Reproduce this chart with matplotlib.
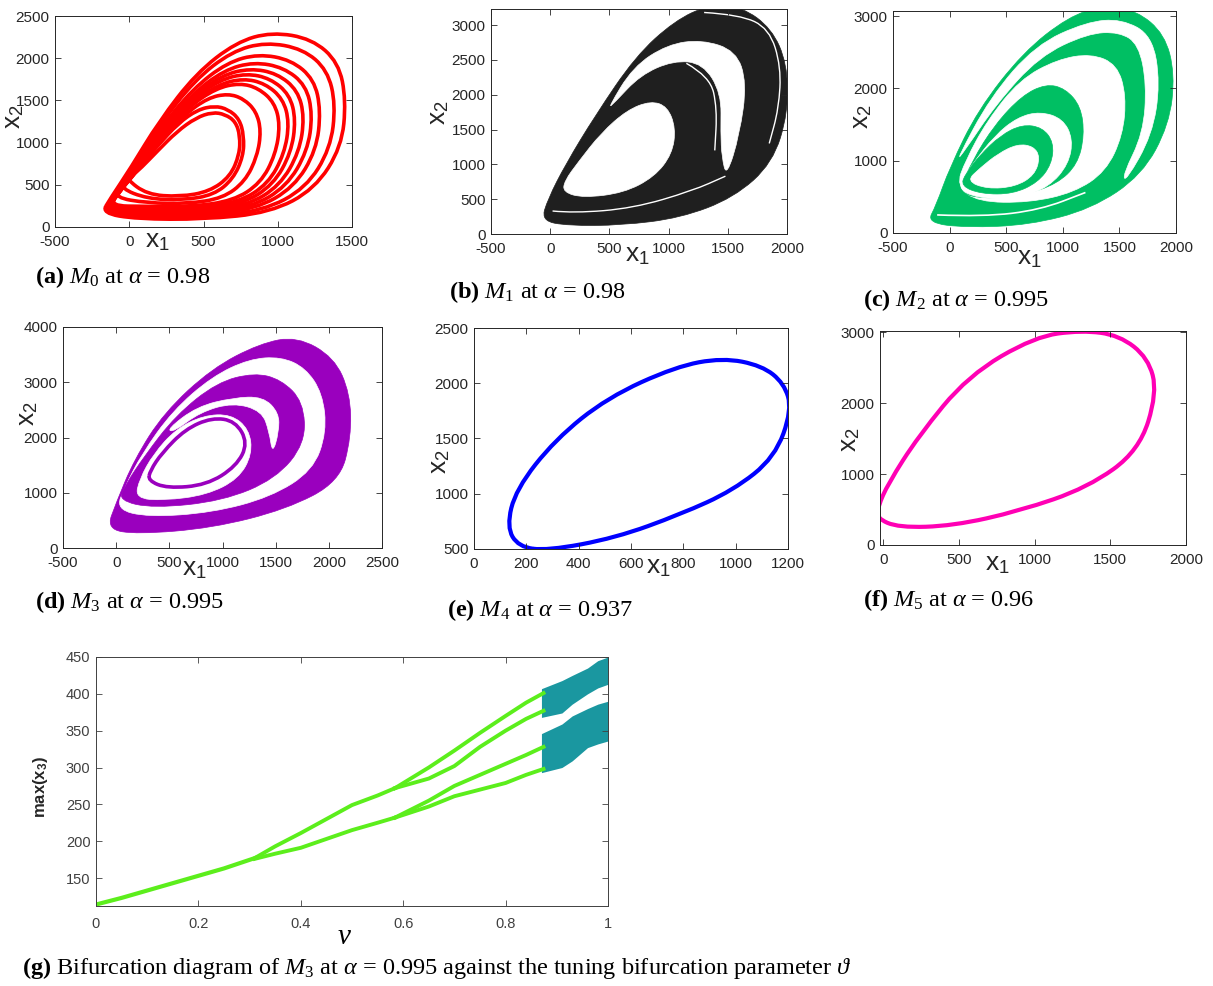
import numpy as np
import matplotlib
matplotlib.use("Agg")
from matplotlib import pyplot as plt
from matplotlib.path import Path
from matplotlib.patches import PathPatch

plt.rcParams["font.family"] = ["Liberation Sans", "DejaVu Sans"]
plt.rcParams["axes.unicode_minus"] = False
plt.rcParams["mathtext.fontset"] = "custom"
plt.rcParams["mathtext.rm"] = "Liberation Serif"
plt.rcParams["mathtext.it"] = "Liberation Serif:italic"
plt.rcParams["mathtext.bf"] = "Liberation Serif:bold"
plt.rcParams["mathtext.bfit"] = "Liberation Sans:bold"
plt.rcParams["mathtext.sf"] = "Liberation Sans"

# ---------------- data (x1, x2) ----------------
# (a) M0: nested loops, outer -> inner
a_loops = [
    [(-185, 165), (50, 95), (500, 90), (950, 170), (1250, 450), (1430, 950), (1460, 1500), (1410, 1950), (1230, 2230), (960, 2310), (720, 2190), (450, 1820), (200, 1250), (10, 700), (-130, 330)],
    [(-175, 170), (50, 120), (480, 115), (900, 190), (1190, 460), (1355, 930), (1390, 1450), (1335, 1860), (1170, 2110), (920, 2190), (690, 2080), (440, 1740), (200, 1200), (20, 690), (-120, 340)],
    [(-165, 175), (60, 145), (460, 140), (850, 210), (1110, 470), (1260, 910), (1290, 1380), (1245, 1750), (1090, 1980), (870, 2050), (660, 1950), (430, 1640), (200, 1150), (30, 680), (-110, 345)],
    [(-155, 180), (70, 165), (450, 160), (820, 230), (1060, 480), (1200, 900), (1235, 1330), (1190, 1680), (1040, 1890), (840, 1955), (640, 1860), (420, 1570), (200, 1110), (35, 670), (-100, 350)],
    [(-150, 190), (80, 185), (440, 180), (790, 250), (1015, 490), (1145, 890), (1180, 1300), (1135, 1620), (995, 1820), (815, 1880), (625, 1800), (410, 1520), (200, 1080), (40, 660), (-95, 360)],
    [(-145, 205), (90, 205), (430, 200), (760, 270), (970, 500), (1090, 880), (1122, 1270), (1080, 1570), (950, 1760), (790, 1820), (610, 1745), (400, 1480), (200, 1060), (45, 660), (-85, 375)],
    [(-140, 220), (100, 225), (420, 220), (735, 290), (935, 510), (1045, 870), (1078, 1240), (1035, 1520), (915, 1700), (770, 1760), (600, 1690), (395, 1440), (200, 1040), (50, 660), (-80, 390)],
    [(-130, 250), (110, 245), (410, 240), (700, 310), (885, 520), (985, 860), (1016, 1210), (978, 1475), (870, 1645), (745, 1705), (585, 1645), (390, 1410), (200, 1020), (55, 665), (-70, 420)],
    [(-100, 350), (120, 285), (390, 275), (630, 340), (780, 540), (862, 840), (888, 1140), (855, 1370), (770, 1520), (665, 1580), (530, 1530), (370, 1330), (200, 990), (60, 690), (-40, 480)],
    [(-60, 460), (120, 335), (360, 318), (570, 380), (700, 570), (768, 840), (772, 1080), (742, 1280), (665, 1395), (575, 1435), (460, 1390), (330, 1230), (190, 960), (70, 720), (-10, 560)],
    [(-20, 570), (120, 385), (340, 358), (540, 420), (680, 600), (742, 860), (746, 1080), (716, 1250), (645, 1335), (560, 1360), (450, 1295), (320, 1130), (190, 900), (80, 700), (20, 610)],
]

# (b) M1: filled region, white holes and thin white threads
b_outer = [(-75, 190), (150, 120), (600, 125), (1100, 230), (1550, 520), (1880, 1020), (2010, 1750), (2000, 2450), (1870, 2950), (1620, 3260), (1340, 3290), (1050, 3060), (720, 2550), (380, 1700), (130, 1000), (-20, 500)]
b_gap = [(490, 1810), (700, 2400), (990, 2720), (1280, 2790), (1570, 2630), (1660, 2170), (1600, 1430), (1490, 820), (1450, 1100), (1440, 1450), (1445, 2020), (1290, 2450), (1040, 2490), (760, 2280), (540, 1880)]
b_hole = [(110, 600), (280, 520), (620, 590), (880, 820), (1030, 1150), (1060, 1520), (990, 1830), (850, 1910), (650, 1780), (430, 1450), (240, 1040), (120, 760)]
b_threads = [
    [(20, 330), (200, 300), (700, 370), (1200, 620), (1480, 830)],
    [(1300, 3180), (1600, 3150), (1850, 2950), (1950, 2400), (1930, 1800), (1850, 1300)],
    [(1150, 2450), (1350, 2260), (1410, 1800), (1390, 1200)],
]

# (c) M2: layered bands (green, white, green, ...)
c_outer = [(-200, 140), (150, 75), (700, 110), (1250, 330), (1700, 800), (1940, 1500), (1990, 2200), (1900, 2750), (1650, 3080), (1350, 3140), (1050, 2990), (650, 2500), (250, 1700), (0, 900), (-120, 380)]
c_gap = [(60, 1000), (360, 1880), (760, 2600), (1210, 2920), (1520, 2960), (1790, 2730), (1860, 2070), (1790, 1360), (1560, 720), (1530, 800), (1710, 1380), (1740, 2060), (1670, 2610), (1500, 2780), (1220, 2760), (790, 2440), (410, 1780), (130, 1130)]
c_white = [(60, 650), (250, 430), (700, 420), (1100, 560), (1380, 850), (1530, 1350), (1560, 1900), (1480, 2330), (1250, 2480), (950, 2400), (620, 2120), (330, 1550), (140, 1000)]
c_mid = [(80, 560), (300, 470), (650, 520), (950, 680), (1130, 950), (1190, 1350), (1160, 1750), (1020, 2000), (850, 2060), (640, 1900), (400, 1500), (200, 1000)]
c_gap2 = [(60, 620), (250, 480), (600, 470), (880, 640), (1050, 950), (1090, 1300), (1000, 1580), (800, 1680), (600, 1600), (400, 1350), (200, 950)]
c_ring = [(100, 650), (280, 540), (560, 540), (780, 700), (900, 950), (920, 1250), (820, 1460), (640, 1500), (450, 1350), (270, 1080), (140, 820)]
c_hole = [(150, 720), (330, 610), (580, 640), (750, 800), (800, 1050), (740, 1200), (600, 1230), (430, 1100), (270, 900)]
c_thread = [(-110, 250), (300, 225), (800, 320), (1200, 560)]

# (d) M3
d_outer = [(-90, 340), (200, 250), (900, 360), (1600, 700), (2100, 1200), (2210, 2000), (2200, 2800), (2050, 3450), (1700, 3830), (1350, 3700), (900, 3250), (450, 2450), (170, 1600), (0, 820)]
d_white = [(0, 700), (300, 560), (900, 640), (1450, 920), (1850, 1400), (1980, 2100), (1940, 2800), (1780, 3260), (1550, 3460), (1250, 3420), (900, 3100), (530, 2480), (240, 1700), (80, 1100)]
d_band = [(20, 860), (350, 720), (1000, 850), (1500, 1250), (1780, 1900), (1760, 2650), (1550, 3050), (1300, 3170), (950, 3000), (560, 2400), (260, 1650), (90, 1150)]
d_gap = [(480, 2150), (760, 2560), (1100, 2720), (1380, 2740), (1530, 2450), (1530, 2100), (1470, 1700), (1440, 2100), (1370, 2480), (1100, 2630), (790, 2460), (540, 2100)]
d_hole = [(180, 900), (450, 860), (850, 960), (1150, 1250), (1280, 1700), (1250, 2150), (1080, 2420), (820, 2400), (560, 2150), (350, 1700), (220, 1250)]
d_inner = [(300, 1220), (480, 1080), (850, 1140), (1130, 1480), (1240, 1900), (1120, 2300), (900, 2360), (650, 2150), (430, 1720), (320, 1400)]

# (e) M4 limit cycle
e_loop = [(280, 485), (540, 600), (790, 815), (990, 1030), (1150, 1330), (1215, 1760), (1185, 2000), (1100, 2160), (950, 2230), (770, 2150), (510, 1870), (310, 1490), (160, 1040), (125, 700), (170, 520)]

# (f) M5 limit cycle
f_loop = [(-45, 380), (100, 245), (460, 270), (900, 480), (1350, 810), (1690, 1330), (1810, 2150), (1750, 2640), (1560, 2960), (1310, 3030), (1000, 2940), (560, 2390), (230, 1530), (30, 860), (-35, 540)]

# (g) bifurcation diagram: periodic branches and chaotic bands
stem_nu = [0, 0.05, 0.1, 0.15, 0.2, 0.25, 0.31]
stem_v = [114, 123, 133, 143, 153, 163, 177]
pair_nu = [0.31, 0.35, 0.4, 0.45, 0.5, 0.55, 0.584]
pair_up = [177, 193, 211, 230, 249, 262, 272]
pair_lo = [176, 183, 191, 203, 215, 225, 232]
quad_nu = [0.584, 0.65, 0.7, 0.75, 0.8, 0.84, 0.874]
quad_a1 = [272, 300, 323, 347, 370, 388, 401]
quad_a2 = [272, 285, 302, 328, 350, 366, 377]
quad_b1 = [232, 255, 275, 290, 305, 317, 328]
quad_b2 = [232, 247, 261, 270, 279, 290, 298]
chaos_nu = [0.87, 0.91, 0.93, 0.96, 0.98, 1.0]
chaos_up_hi = [407, 418, 425, 435, 445, 450]
chaos_up_lo = [368, 374, 386, 400, 408, 413]
chaos_lo_hi = [346, 359, 370, 380, 386, 390]
chaos_lo_lo = [293, 300, 309, 327, 332, 336]

W, H = 1213, 986
INK = "#262626"


def loop_path(pts):
    # closed smooth path with the points as quadratic control vertices
    p = np.asarray(pts, dtype=float)
    mid = (p + np.roll(p, -1, axis=0)) / 2
    verts = [mid[-1]]
    for a, m in zip(p, mid):
        verts += [a, m]
    codes = [Path.MOVETO] + [Path.CURVE3] * (2 * len(p))
    return Path(verts, codes)


def open_path(pts):
    p = np.asarray(pts, dtype=float)
    verts = [p[0]]
    codes = [Path.MOVETO]
    for i in range(1, len(p) - 1):
        verts += [p[i], (p[i] + p[i + 1]) / 2]
        codes += [Path.CURVE3, Path.CURVE3]
    verts.append(p[-1])
    codes.append(Path.LINETO)
    return Path(verts, codes)


def fill_loop(ax, pts, color):
    ax.add_patch(PathPatch(loop_path(pts), facecolor=color, edgecolor=color, lw=0.5))


def line_loop(ax, pts, color, lw):
    ax.add_patch(PathPatch(loop_path(pts), facecolor="none", edgecolor=color, lw=lw))


def thread(ax, pts, color, lw):
    ax.add_patch(PathPatch(open_path(pts), facecolor="none", edgecolor=color, lw=lw))


def make_axes(box, xlim, ylim, xticks, yticks, labelsize=11, color=INK):
    l, t, r, b = box
    ax = fig.add_axes([l / W, 1 - b / H, (r - l) / W, (b - t) / H])
    ax.set_xlim(*xlim)
    ax.set_ylim(*ylim)
    ax.set_xticks(xticks)
    ax.set_yticks(yticks)
    ax.tick_params(direction="in", top=True, right=True, length=4, width=0.6,
                   colors=color, labelsize=labelsize, pad=4)
    ax.tick_params(axis="x", pad=6)
    for s in ax.spines.values():
        s.set_color(color)
        s.set_linewidth(0.7)
    return ax


def fig_text(x, y, s, **kw):
    return fig.text(x / W, 1 - y / H, s, **kw)


def axis_labels(xpos, ypos):
    fig_text(*xpos, r"$\mathsf{x}_{\mathsf{1}}$", fontsize=19, color=INK, ha="center", va="center")
    fig_text(*ypos, r"$\mathsf{x}_{\mathsf{2}}$", fontsize=19, color=INK, ha="center", va="center", rotation=90)


def caption(x, y, s):
    fig_text(x, y, s, fontsize=17.5, family="Liberation Serif", ha="left", va="center")


fig = plt.figure(figsize=(W / 100, H / 100), dpi=100)

# (a)
ax = make_axes((55, 16, 352, 227), (-500, 1500), (0, 2500), np.arange(-500, 1501, 500), np.arange(0, 2501, 500))
for lp in a_loops:
    line_loop(ax, lp, "#ff0000", 2.6)
axis_labels((157, 241), (14, 117))
caption(35, 277, r"$\mathbf{(a)}$ $M_0$ at $\alpha$ = 0.98")

# (b)
ax = make_axes((491, 9, 787, 234), (-500, 2000), (0, 3230), np.arange(-500, 2001, 500), np.arange(0, 3001, 500))
fill_loop(ax, b_outer, "#1f1f1f")
fill_loop(ax, b_gap, "white")
fill_loop(ax, b_hole, "white")
for th in b_threads:
    thread(ax, th, "white", 1.0)
axis_labels((637, 255), (439, 113))
caption(449, 292, r"$\mathbf{(b)}$ $M_1$ at $\alpha$ = 0.98")

# (c)
green = "#00bf63"
ax = make_axes((893, 11, 1176, 233), (-500, 2000), (0, 3070), np.arange(-500, 2001, 500), [0, 1000, 2000, 3000])
fill_loop(ax, c_outer, green)
fill_loop(ax, c_gap, "white")
fill_loop(ax, c_white, "white")
fill_loop(ax, c_mid, green)
fill_loop(ax, c_gap2, "white")
fill_loop(ax, c_ring, green)
fill_loop(ax, c_hole, "white")
thread(ax, c_thread, "white", 1.2)
axis_labels((1029, 258), (862, 117))
caption(863, 300, r"$\mathbf{(c)}$ $M_2$ at $\alpha$ = 0.995")

# (d)
purple = "#9a00be"
ax = make_axes((63, 327, 382, 548), (-500, 2500), (0, 4000), np.arange(-500, 2501, 500), np.arange(0, 4001, 1000))
fill_loop(ax, d_outer, purple)
fill_loop(ax, d_white, "white")
fill_loop(ax, d_band, purple)
fill_loop(ax, d_gap, "white")
fill_loop(ax, d_hole, "white")
line_loop(ax, d_inner, purple, 2.6)
axis_labels((194, 569), (28, 414))
caption(35, 602, r"$\mathbf{(d)}$ $M_3$ at $\alpha$ = 0.995")

# (e)
ax = make_axes((474, 328, 788, 549), (0, 1200), (500, 2500), np.arange(0, 1201, 200), np.arange(500, 2501, 500))
line_loop(ax, e_loop, "#0000ff", 3)
axis_labels((658, 567), (440, 462))
caption(447, 610, r"$\mathbf{(e)}$ $M_4$ at $\alpha$ = 0.937")

# (f)
ax = make_axes((880, 331, 1186, 545), (-22, 2000), (0, 3020), np.arange(0, 2001, 500), [0, 1000, 2000, 3000])
line_loop(ax, f_loop, "#ff00b4", 3)
axis_labels((997, 564), (850, 440))
caption(863, 600, r"$\mathbf{(f)}$ $M_5$ at $\alpha$ = 0.96")

# (g)
lime = "#5cee1c"
teal = "#1a97a0"
ax = make_axes((96, 657, 608, 906), (0, 1), (112, 450), [0, 0.2, 0.4, 0.6, 0.8, 1], np.arange(150, 451, 50),
               labelsize=10.5, color="#404040")
ax.set_xticklabels(["0", "0.2", "0.4", "0.6", "0.8", "1"])
ax.tick_params(axis="x", pad=8)
ax.plot(stem_nu, stem_v, color=lime, lw=3)
for yv in (pair_up, pair_lo):
    ax.plot(pair_nu, yv, color=lime, lw=2.8)
for yv in (quad_a1, quad_a2, quad_b1, quad_b2):
    ax.plot(quad_nu, yv, color=lime, lw=2.8)
ax.fill_between(chaos_nu, chaos_up_lo, chaos_up_hi, color=teal, lw=0)
ax.fill_between(chaos_nu, chaos_lo_lo, chaos_lo_hi, color=teal, lw=0)
fig_text(40, 787, r"$\mathbfit{max(x}_{\mathbfit{3}}\mathbfit{)}$", fontsize=12, color=INK,
         ha="center", va="center", rotation=90)
fig_text(344, 936, r"$\nu$", fontsize=21, ha="center", va="center")
caption(22, 968, r"$\mathbf{(g)}$ Bifurcation diagram of $M_3$ at $\alpha$ = 0.995 against the tuning bifurcation parameter $\vartheta$")

fig.savefig("out.png", dpi=100, facecolor="white")
